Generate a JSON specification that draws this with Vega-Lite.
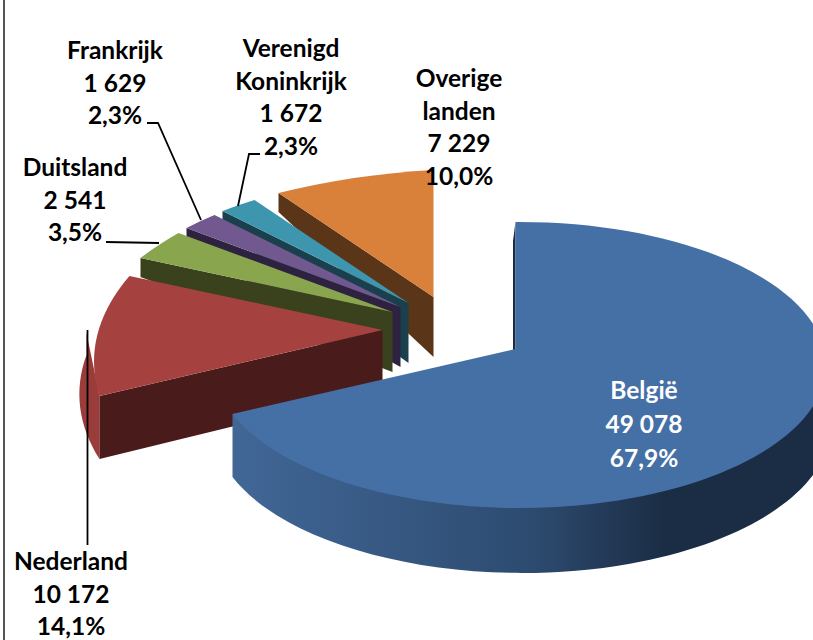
{
"$schema":"https://vega.github.io/schema/vega-lite/v6.json",
"autosize":{"type":"none"},
"width":813,"height":640,"padding":0,"background":"white",
"config":{"view":{"stroke":null}},
"data":{"values":[
{"land":"België","value":49078,"label":"België\n49 078\n67,9%"},
{"land":"Nederland","value":10172,"label":"Nederland\n10 172\n14,1%"},
{"land":"Duitsland","value":2541,"label":"Duitsland\n2 541\n3,5%"},
{"land":"Frankrijk","value":1629,"label":"Frankrijk\n1 629\n2,3%"},
{"land":"Verenigd Koninkrijk","value":1672,"label":"Verenigd\nKoninkrijk\n1 672\n2,3%"},
{"land":"Overige landen","value":7229,"label":"Overige\nlanden\n7 229\n10,0%"}
]},
"transform":[
{"joinaggregate":[{"op":"sum","field":"value","as":"total"}]},
{"stack":"value","groupby":[],"as":["v0","v1"]},
{"calculate":"datum.v0/datum.total*2*PI","as":"a0"},
{"calculate":"datum.v1/datum.total*2*PI","as":"a1"},
{"calculate":"(datum.a0+datum.a1)/2","as":"mid"},
{"calculate":"49.5+(sin(datum.mid)>0?70:74)*sin(datum.mid)","as":"ax"},
{"calculate":"10-35*cos(datum.mid)","as":"ay"},
{"calculate":"round(datum.ax+296*sin(datum.a0)*(1-0.14*cos(datum.a0)))","as":"x0"},
{"calculate":"round(datum.ay+3-140*cos(datum.a0)+10*pow(cos(datum.a0),2))","as":"y0"},
{"calculate":"round(datum.ax+296*sin(datum.a1)*(1-0.14*cos(datum.a1)))","as":"x1"},
{"calculate":"round(datum.ay+3-140*cos(datum.a1)+10*pow(cos(datum.a1),2))","as":"y1"},
{"calculate":"cos(datum.a0)>0?19:min(68,22+95*(-cos(datum.a0)))","as":"d0"},
{"calculate":"max(datum.a0,PI/2)","as":"a2"},
{"calculate":"min(datum.a1,3*PI/2)","as":"a3"},
{"calculate":"round(datum.ax+296*sin(datum.a2)*(1-0.14*cos(datum.a2)))","as":"x2"},
{"calculate":"round(datum.ay+3-140*cos(datum.a2)+10*pow(cos(datum.a2),2))","as":"y2"},
{"calculate":"round(datum.ax+296*sin(datum.a3)*(1-0.14*cos(datum.a3)))","as":"x3"},
{"calculate":"round(datum.ay+3-140*cos(datum.a3)+10*pow(cos(datum.a3),2))","as":"y3"},
{"calculate":"min(68,22+95*max(0,-cos(datum.a2)))","as":"d2"},
{"calculate":"min(68,22+95*max(0,-cos(datum.a3)))","as":"d3"},
{"calculate":"datum.a0==0?-2.5:0","as":"wx"},
{"calculate":"round(datum.ax)","as":"axr"},
{"calculate":"round(datum.ay)","as":"ayr"},
{"calculate":"datum.a1-datum.a0>PI?'A306 143 0 1 1 ':'A450 220 0 0 1 '","as":"arcTop"},
{"calculate":"datum.a1-datum.a0>PI?'A306 146 0 0 0 ':'A450 220 0 0 0 '","as":"arcBack"},
{"calculate":"'M'+datum.axr+' '+datum.ayr+'L'+datum.x0+' '+datum.y0+datum.arcTop+datum.x1+' '+datum.y1+'Z'","as":"top"},
{"calculate":"'M'+datum.axr+' '+datum.ayr+'L'+datum.x0+' '+datum.y0+'L'+(datum.x0+datum.wx)+' '+(datum.y0+round(datum.d0))+'L'+(datum.axr+datum.wx)+' '+(datum.ayr+60)+'Z'","as":"wall"},
{"calculate":"'M'+datum.x2+' '+datum.y2+'L'+datum.x3+' '+datum.y3+'L'+datum.x3+' '+(datum.y3+round(datum.d3))+datum.arcBack+datum.x2+' '+(datum.y2+round(datum.d2))+'Z'","as":"outer"}
],
"layer":[
{"transform":[{"filter":"datum.land=='Overige landen'"}],"mark":{"type":"point","filled":true,"opacity":1,"size":4,"fill":"#5a3517"},"encoding":{"shape":{"field":"wall","type":"nominal","scale":null,"legend":null}}},
{"transform":[{"filter":"datum.land=='Overige landen'"}],"mark":{"type":"point","filled":true,"opacity":1,"size":4,"fill":"#d9803a"},"encoding":{"shape":{"field":"top","type":"nominal","scale":null,"legend":null}}},
{"transform":[{"filter":"datum.land=='Verenigd Koninkrijk'"}],"mark":{"type":"point","filled":true,"opacity":1,"size":4,"fill":"#1a3f4d"},"encoding":{"shape":{"field":"wall","type":"nominal","scale":null,"legend":null}}},
{"transform":[{"filter":"datum.land=='Verenigd Koninkrijk'"}],"mark":{"type":"point","filled":true,"opacity":1,"size":4,"fill":"#3e96ae"},"encoding":{"shape":{"field":"top","type":"nominal","scale":null,"legend":null}}},
{"transform":[{"filter":"datum.land=='Frankrijk'"}],"mark":{"type":"point","filled":true,"opacity":1,"size":4,"fill":"#2d2340"},"encoding":{"shape":{"field":"wall","type":"nominal","scale":null,"legend":null}}},
{"transform":[{"filter":"datum.land=='Frankrijk'"}],"mark":{"type":"point","filled":true,"opacity":1,"size":4,"fill":"#71588f"},"encoding":{"shape":{"field":"top","type":"nominal","scale":null,"legend":null}}},
{"transform":[{"filter":"datum.land=='Duitsland'"}],"mark":{"type":"point","filled":true,"opacity":1,"size":4,"fill":"#3a421d"},"encoding":{"shape":{"field":"wall","type":"nominal","scale":null,"legend":null}}},
{"transform":[{"filter":"datum.land=='Duitsland'"}],"mark":{"type":"point","filled":true,"opacity":1,"size":4,"fill":"#89a54e"},"encoding":{"shape":{"field":"top","type":"nominal","scale":null,"legend":null}}},
{"transform":[{"filter":"datum.land=='Nederland'"}],"mark":{"type":"point","filled":true,"opacity":1,"size":4,"fill":"#9a3c3a"},"encoding":{"shape":{"field":"outer","type":"nominal","scale":null,"legend":null}}},
{"transform":[{"filter":"datum.land=='Nederland'"}],"mark":{"type":"point","filled":true,"opacity":1,"size":4,"fill":"#4a1b1b"},"encoding":{"shape":{"field":"wall","type":"nominal","scale":null,"legend":null}}},
{"transform":[{"filter":"datum.land=='Nederland'"}],"mark":{"type":"point","filled":true,"opacity":1,"size":4,"fill":"#a5423f"},"encoding":{"shape":{"field":"top","type":"nominal","scale":null,"legend":null}}},
{"transform":[{"filter":"datum.land=='België'"}],"mark":{"type":"point","filled":true,"opacity":1,"size":4,"fill":{"gradient":"linear","x1":0,"y1":0,"x2":1,"y2":0,"stops":[{"offset":0,"color":"#416797"},{"offset":0.5,"color":"#2d4b70"},{"offset":0.72,"color":"#1b2d45"},{"offset":1,"color":"#1b2d45"}]}},"encoding":{"shape":{"field":"outer","type":"nominal","scale":null,"legend":null}}},
{"transform":[{"filter":"datum.land=='België'"}],"mark":{"type":"point","filled":true,"opacity":1,"size":4,"fill":"#1b2d45"},"encoding":{"shape":{"field":"wall","type":"nominal","scale":null,"legend":null}}},
{"transform":[{"filter":"datum.land=='België'"}],"mark":{"type":"point","filled":true,"opacity":1,"size":4,"fill":"#4570a6"},"encoding":{"shape":{"field":"top","type":"nominal","scale":null,"legend":null}}},
{"transform":[{"filter":"datum.land=='Nederland'"}],"mark":{"type":"point","filled":false,"opacity":1,"size":4,"stroke":"#000","strokeWidth":1.8,"shape":"M-319 10L-319 225"},"encoding":{}},
{"transform":[{"filter":"datum.land=='Duitsland'"}],"mark":{"type":"point","filled":false,"opacity":1,"size":4,"stroke":"#000","strokeWidth":1.8,"shape":"M-300.5 -78L-247.5 -77"},"encoding":{}},
{"transform":[{"filter":"datum.land=='Frankrijk'"}],"mark":{"type":"point","filled":false,"opacity":1,"size":4,"stroke":"#000","strokeWidth":1.8,"shape":"M-259.5 -197L-248.5 -197L-205.5 -100"},"encoding":{}},
{"transform":[{"filter":"datum.land=='Verenigd Koninkrijk'"}],"mark":{"type":"point","filled":false,"opacity":1,"size":4,"stroke":"#000","strokeWidth":1.8,"shape":"M-146.5 -166L-157.5 -166L-168.5 -114"},"encoding":{}},
{"transform":[{"filter":"datum.land=='België'"}],"mark":{"type":"point","filled":false,"opacity":1,"size":4,"stroke":"#555","strokeWidth":2,"shape":"M-402.5 -320L-402.5 320"},"encoding":{}},
{"transform":[{"filter":"datum.land=='België'"}],"mark":{"type":"text","font":"Lato","fontWeight":"bold","fontSize":24.5,"lineHeight":34,"lineBreak":"\n","align":"center","baseline":"middle","color":"#ffffff","dx":237.5,"dy":72},"encoding":{"text":{"field":"label","type":"nominal"}}},
{"transform":[{"filter":"datum.land=='Nederland'"}],"mark":{"type":"text","font":"Lato","fontWeight":"bold","fontSize":24.5,"lineHeight":32.5,"lineBreak":"\n","align":"center","baseline":"middle","color":"#000000","dx":-335.5,"dy":243},"encoding":{"text":{"field":"label","type":"nominal"}}},
{"transform":[{"filter":"datum.land=='Duitsland'"}],"mark":{"type":"text","font":"Lato","fontWeight":"bold","fontSize":24.5,"lineHeight":32.5,"lineBreak":"\n","align":"center","baseline":"middle","color":"#000000","dx":-331.5,"dy":-151},"encoding":{"text":{"field":"label","type":"nominal"}}},
{"transform":[{"filter":"datum.land=='Frankrijk'"}],"mark":{"type":"text","font":"Lato","fontWeight":"bold","fontSize":24.5,"lineHeight":32.5,"lineBreak":"\n","align":"center","baseline":"middle","color":"#000000","dx":-291.5,"dy":-268},"encoding":{"text":{"field":"label","type":"nominal"}}},
{"transform":[{"filter":"datum.land=='Verenigd Koninkrijk'"}],"mark":{"type":"text","font":"Lato","fontWeight":"bold","fontSize":24.5,"lineHeight":32.5,"lineBreak":"\n","align":"center","baseline":"middle","color":"#000000","dx":-115.5,"dy":-270},"encoding":{"text":{"field":"label","type":"nominal"}}},
{"transform":[{"filter":"datum.land=='Overige landen'"}],"mark":{"type":"text","font":"Lato","fontWeight":"bold","fontSize":24.5,"lineHeight":32.5,"lineBreak":"\n","align":"center","baseline":"middle","color":"#000000","dx":52.5,"dy":-240},"encoding":{"text":{"field":"label","type":"nominal"}}}
]
}
